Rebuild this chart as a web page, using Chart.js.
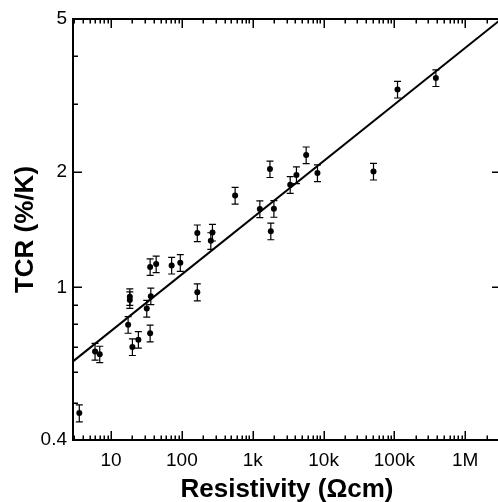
<!DOCTYPE html>
<html>
<head>
<meta charset="utf-8">
<script src="https://cdn.jsdelivr.net/npm/chart.js@4/dist/chart.umd.min.js"></script>
<style>
  html, body { margin: 0; padding: 0; background: #fff; overflow: hidden; }
  canvas { display: block; }
</style>
</head>
<body>
<canvas id="tcrChart" width="504" height="502"></canvas>
<script>
// resistivity (ohm cm) and TCR (%/K)
const resistivity = [3.56, 5.94, 6.92, 17.4, 18.4, 18.4, 20.0, 24.3, 31.9, 35.6, 36.4, 35.6, 43.3, 71.6, 94.9,
    165, 165, 270, 256, 564, 1750, 1260, 1990, 1800, 3380, 4140, 5680, 8200, 50700, 110700, 385000];
const tcr = [0.470, 0.680, 0.669, 0.799, 0.944, 0.927, 0.699, 0.730, 0.880, 0.759, 0.948, 1.130, 1.149, 1.140, 1.158,
    1.384, 0.971, 1.389, 1.321, 1.734, 2.032, 1.599, 1.602, 1.400, 1.849, 1.960, 2.210, 1.984, 2.003, 3.277, 3.51];
const tcrErr = [0.024, 0.034, 0.033, 0.040, 0.047, 0.046, 0.035, 0.036, 0.044, 0.038, 0.047, 0.056, 0.057, 0.057, 0.058,
    0.069, 0.049, 0.069, 0.066, 0.087, 0.100, 0.080, 0.080, 0.070, 0.092, 0.098, 0.110, 0.099, 0.100, 0.164, 0.175];

// power-law fit line end points
const fitX = [2.9, 3.2e6];
const fitY = [0.641, 4.99];

const xTickValues = [10, 100, 1e3, 1e4, 1e5, 1e6];
const xTickLabels = ['10', '100', '1k', '10k', '100k', '1M'];
const yTickValues = [0.4, 1, 2, 5];
const yTickLabels = ['0.4', '1', '2', '5'];
const yMinorTicks = [0.5, 0.6, 0.7, 0.8, 0.9, 3, 4];

const X_MIN = 2.9, X_MAX = 3.2e6, Y_MIN = 0.4, Y_MAX = 5;

function xMinorTicks() {
    const out = [];
    for (let d = 1; d <= 1e6; d *= 10) {
        for (let m = 2; m <= 9; m++) {
            const v = m * d;
            if (v > X_MIN && v < X_MAX) out.push(v);
        }
    }
    return out;
}

const errorBars = {
    id: 'errorBars',
    afterDatasetsDraw(chart) {
        const { ctx, scales: { x, y } } = chart;
        ctx.save();
        ctx.strokeStyle = '#000';
        ctx.lineWidth = 1.2;
        resistivity.forEach((r, i) => {
            const px = x.getPixelForValue(r);
            const top = y.getPixelForValue(tcr[i] + tcrErr[i]);
            const bot = y.getPixelForValue(tcr[i] - tcrErr[i]);
            ctx.beginPath();
            ctx.moveTo(px, top); ctx.lineTo(px, bot);
            ctx.moveTo(px - 3.5, top); ctx.lineTo(px + 3.5, top);
            ctx.moveTo(px - 3.5, bot); ctx.lineTo(px + 3.5, bot);
            ctx.stroke();
        });
        ctx.restore();
    }
};

const frameTicks = {
    id: 'frameTicks',
    afterDraw(chart) {
        const { ctx, chartArea: a, scales: { x, y } } = chart;
        ctx.save();
        ctx.strokeStyle = '#000';
        // top and right frame lines
        ctx.lineWidth = 2;
        ctx.beginPath();
        ctx.moveTo(a.left - 1, a.top); ctx.lineTo(a.right, a.top);
        ctx.moveTo(a.right, a.top); ctx.lineTo(a.right, a.bottom);
        ctx.stroke();

        ctx.lineWidth = 1.5;
        ctx.beginPath();
        const xt = (v, len) => {
            const px = Math.round(x.getPixelForValue(v)) + 0.25;
            ctx.moveTo(px, a.bottom); ctx.lineTo(px, a.bottom - len);
            ctx.moveTo(px, a.top); ctx.lineTo(px, a.top + len);
        };
        xTickValues.forEach(v => xt(v, 9));
        xMinorTicks().forEach(v => xt(v, 4.5));
        const yt = (v, len, right) => {
            const py = Math.round(y.getPixelForValue(v)) + 0.25;
            ctx.moveTo(a.left, py); ctx.lineTo(a.left + len, py);
            if (right) { ctx.moveTo(a.right, py); ctx.lineTo(a.right - len, py); }
        };
        yTickValues.forEach(v => yt(v, 9, true));
        yMinorTicks.forEach(v => yt(v, 5, false));
        ctx.stroke();
        ctx.restore();
    }
};

const font = 'Helvetica, "Liberation Sans", Arial, sans-serif';

new Chart(document.getElementById('tcrChart'), {
    data: {
        datasets: [{
            type: 'scatter',
            data: resistivity.map((r, i) => ({ x: r, y: tcr[i] })),
            pointRadius: 3,
            pointHoverRadius: 3,
            backgroundColor: '#000',
            borderWidth: 0
        }, {
            type: 'line',
            data: fitX.map((v, i) => ({ x: v, y: fitY[i] })),
            borderColor: '#000',
            borderWidth: 2,
            pointRadius: 0,
            fill: false
        }]
    },
    options: {
        responsive: false,
        animation: false,
        layout: { padding: { top: 19, right: 0, left: 0, bottom: 0 } },
        plugins: { legend: { display: false }, tooltip: { enabled: false } },
        scales: {
            x: {
                type: 'logarithmic',
                position: 'bottom',
                min: X_MIN,
                max: X_MAX,
                afterBuildTicks: s => { s.ticks = xTickValues.map(v => ({ value: v })); },
                afterFit: s => { s.height = 62; },
                grid: { display: true, drawOnChartArea: false, drawTicks: false },
                border: { display: true, color: '#000', width: 2 },
                ticks: {
                    autoSkip: false,
                    maxRotation: 0,
                    padding: 9,
                    color: '#000',
                    font: { family: font, size: 19 },
                    callback: v => {
                        const i = xTickValues.indexOf(v);
                        return i >= 0 ? xTickLabels[i] : '';
                    }
                },
                title: {
                    display: true,
                    text: 'Resistivity (\u03A9cm)',
                    color: '#000',
                    font: { family: font, size: 26, weight: 'bold', lineHeight: 1 },
                    padding: { top: 0, bottom: -1 }
                }
            },
            y: {
                type: 'logarithmic',
                min: Y_MIN,
                max: Y_MAX,
                afterBuildTicks: s => { s.ticks = yTickValues.map(v => ({ value: v })); },
                afterFit: s => { s.width = 73; },
                grid: { display: true, drawOnChartArea: false, drawTicks: false },
                border: { display: true, color: '#000', width: 2 },
                ticks: {
                    autoSkip: false,
                    padding: 6,
                    color: '#000',
                    font: { family: font, size: 19 },
                    callback: v => {
                        const i = yTickValues.indexOf(v);
                        return i >= 0 ? yTickLabels[i] : '';
                    }
                },
                title: {
                    display: true,
                    text: 'TCR (%/K)',
                    color: '#000',
                    font: { family: font, size: 26, weight: 'bold', lineHeight: 1 },
                    padding: { top: 13, bottom: 0 }
                }
            }
        }
    },
    plugins: [errorBars, frameTicks]
});
</script>
</body>
</html>
